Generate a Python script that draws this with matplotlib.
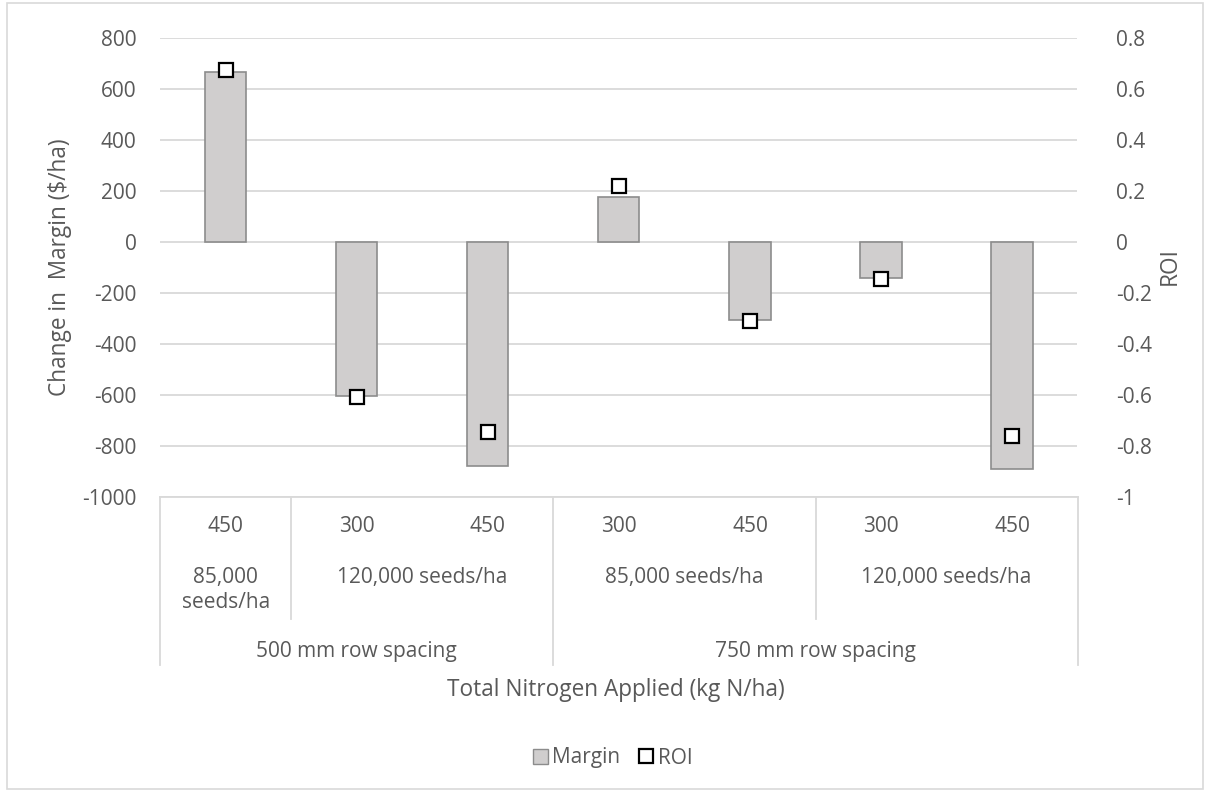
import numpy as np
import matplotlib.pyplot as plt
from matplotlib.lines import Line2D
from matplotlib.patches import Patch, Rectangle

plt.rcParams['font.family'] = ['Open Sans', 'DejaVu Sans']
plt.rcParams['axes.unicode_minus'] = False

#%% datos
nitrogen = ['450', '300', '450', '300', '450', '300', '450']
seeds = ['85,000\nseeds/ha', '120,000 seeds/ha', '85,000 seeds/ha', '120,000 seeds/ha']
seeds_span = [(0, 1), (1, 3), (3, 5), (5, 7)]
spacing = ['500 mm row spacing', '750 mm row spacing']
spacing_span = [(0, 3), (3, 7)]
margin = [666, -605, -878, 177, -305, -143, -892]
roi = [0.675, -0.607, -0.747, 0.221, -0.31, -0.145, -0.76]
yticks_m = [-1000, -800, -600, -400, -200, 0, 200, 400, 600, 800]
yticks_r = [-1, -0.8, -0.6, -0.4, -0.2, 0, 0.2, 0.4, 0.6, 0.8]

txt = '#595959'
grid = '#D9D9D9'
fs = 15
fs_t = 16.3
W, H = 1206, 792

#%% figura
fig = plt.figure(figsize=(W/100, H/100), dpi=100)
ax = fig.add_axes([160/W, 1-496.7/H, 917.3/W, 458.4/H])
x = np.arange(len(margin))
ax.bar(x, margin, width=0.318, color='#D0CECE', edgecolor='#8C8C8C', linewidth=1.2, zorder=2)
ax.set_xlim(-0.5, len(margin)-0.5)
ax.set_ylim(-1000, 800)
ax.set_yticks(yticks_m)
ax.set_xticks([])
ax.grid(axis='y', color=grid, linewidth=1.3, zorder=0)
for s in ax.spines.values():
    s.set_visible(False)
ax.tick_params(axis='y', length=0, pad=17, labelsize=fs, labelcolor=txt)

ax2 = ax.twinx()
ax2.plot(x, roi, 's', ms=10, mfc='white', mec='black', mew=1.6, zorder=3)
ax2.set_ylim(-1, 0.8)
ax2.set_yticks(yticks_r)
ax2.set_yticklabels([f'{v:g}' for v in yticks_r])
for s in ax2.spines.values():
    s.set_visible(False)
ax2.tick_params(axis='y', length=0, pad=28, labelsize=fs, labelcolor=txt)

fig.text(60/W, 1-267/H, 'Change in  Margin ($/ha)', rotation=90, ha='center', va='center',
         fontsize=fs_t, color=txt)
fig.text(1170/W, 1-266/H, 'ROI', rotation=90, ha='center', va='center', fontsize=fs_t, color=txt)

#%% tabla de categorias
x0, cw = 160.3, 131.05
def px(i):
    return (x0 + i*cw)/W
def py(y):
    return 1 - y/H

fig.add_artist(Line2D([px(0), px(7)], [py(496.7), py(496.7)], color=grid, lw=1.3))
for i in [0, 3, 7]:
    fig.add_artist(Line2D([px(i), px(i)], [py(496.7), py(665)], color=grid, lw=1.3))
for i in [1, 5]:
    fig.add_artist(Line2D([px(i), px(i)], [py(496.7), py(619)], color=grid, lw=1.3))

for i, lab in enumerate(nitrogen):
    fig.text(px(i+0.5), py(526), lab, ha='center', va='center', fontsize=fs, color=txt)
for lab, (a, b) in zip(seeds, seeds_span):
    if '\n' in lab:
        fig.text(px((a+b)/2), py(590), lab, ha='center', va='center', fontsize=fs,
                 color=txt, linespacing=1.25)
    else:
        fig.text(px((a+b)/2), py(578), lab, ha='center', va='center', fontsize=fs, color=txt)
for lab, (a, b) in zip(spacing, spacing_span):
    fig.text(px((a+b)/2), py(651), lab, ha='center', va='center', fontsize=fs, color=txt)

fig.text(616/W, py(690), 'Total Nitrogen Applied (kg N/ha)', ha='center', va='center',
         fontsize=fs_t, color=txt)

#%% leyenda
handles = [Patch(facecolor='#D0CECE', edgecolor='#8C8C8C'),
           Line2D([], [], marker='s', ls='', ms=10, mfc='white', mec='black', mew=1.6)]
fig.legend(handles, ['Margin', 'ROI'], loc='center', bbox_to_anchor=(613/W, py(758)), ncol=2,
           frameon=False, fontsize=fs, labelcolor=txt, handlelength=0.7, handletextpad=0.2,
           columnspacing=0.9, handleheight=0.7)

fig.add_artist(Rectangle((7/W, 3/H), 1-10/W, 1-6/H, transform=fig.transFigure, fill=False,
                         edgecolor=grid, lw=1.2))

fig.savefig('out.png', dpi=100)
